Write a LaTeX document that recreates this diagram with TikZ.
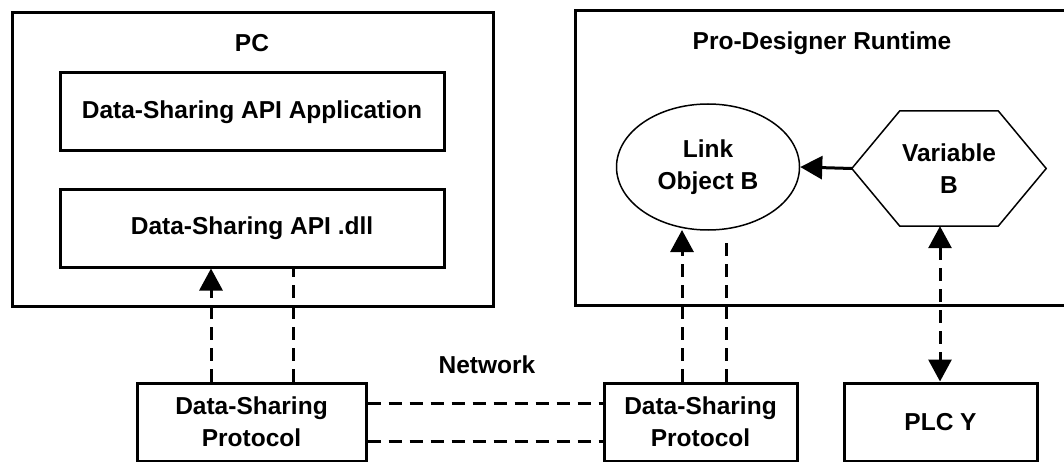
\documentclass[tikz,border=0pt]{standalone}
\usepackage{fontspec}
\setmainfont{Liberation Sans}
\usetikzlibrary{arrows.meta,calc,shapes.geometric}
\tikzset{
  lbl/.style={font=\bfseries\fontsize{24.5}{32}\selectfont, align=center},
  box/.style={draw, line width=3pt, lbl},
  dashln/.style={line width=3pt, dash pattern=on 13pt off 8pt},
  tip/.style={-{Triangle[length=22pt,width=23pt]}},
}
\begin{document}
\begin{tikzpicture}[x=1pt,y=-1pt]
\useasboundingbox (0,0) rectangle (1064,462);
% PC container
\node[draw, line width=3pt, minimum width=481pt, minimum height=294pt, anchor=north west, inner sep=0pt] (pc) at (11,11) {};
\node[lbl] (pct) at (252,43) {PC};
\node[box, minimum width=384pt, minimum height=78pt] (app) at (252,112) {Data-Sharing API Application};
\node[box, minimum width=384pt, minimum height=77pt] (dll) at (252,228.5) {Data-Sharing API .dll};
% Runtime container (right edge beyond picture)
\coordinate (rtr1) at (1070,11);
\coordinate (rtr2) at (1070,305);
\draw[line width=3pt] (rtr1) -- (575,11) -- (575,305) -- (rtr2);
\node[lbl] (rtt) at (822,43) {Pro-Designer Runtime};
\node[draw, ellipse, line width=1.5pt, minimum width=183pt, minimum height=126pt, inner sep=0pt, lbl] (link) at (708,167) {Link\\Object B};
\node[minimum width=194pt, minimum height=115pt, inner sep=0pt, lbl] (var) at (949,168.5) {Variable\\B};
\draw[line width=1.5pt, line join=miter] (var.west) -- ($(var.north west)+(48,0)$) -- ($(var.north east)+(-48,0)$) -- (var.east) -- ($(var.south east)+(-48,0)$) -- ($(var.south west)+(48,0)$) -- cycle;
% bottom boxes
\node[box, minimum width=229pt, minimum height=78pt] (dsp1) at (251.5,422) {Data-Sharing\\Protocol};
\node[box, minimum width=193pt, minimum height=78pt] (dsp2) at (700.5,422) {Data-Sharing\\Protocol};
\node[box, minimum width=193pt, minimum height=78pt] (plc) at (940.5,422) {PLC Y};
\node[lbl] (net) at (487,365) {Network};
% connectors
\draw[dashln, tip] (dsp1.north -| 211,0) -- (dll.south -| 211,0);
\draw[dashln] (dsp1.north -| 293,0) -- (dll.south -| 293,0);
\draw[dashln] ($(dsp1.east)+(0,-19)$) -- ($(dsp2.west)+(0,-19)$);
\draw[dashln] ($(dsp1.east)+(0,19)$) -- ($(dsp2.west)+(0,19)$);
\draw[dashln, tip] (dsp2.north -| 682,0) -- (682,230);
\draw[dashln] (dsp2.north -| 726,0) -- (726,236);
\draw[dashln, {Triangle[length=22pt,width=23pt]}-{Triangle[length=22pt,width=23pt]}] (var.south -| 940,0) -- (plc.north -| 940,0);
\draw[line width=3pt, tip] (var.west) -- (link.east);
\end{tikzpicture}
\end{document}
